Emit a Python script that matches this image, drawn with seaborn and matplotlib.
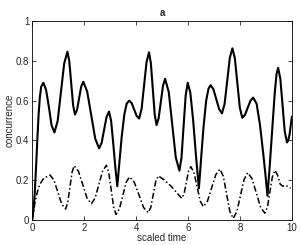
import matplotlib
matplotlib.use('Agg')
import seaborn as sns
import matplotlib.pyplot as plt

sns.set_style('white')
plt.rcParams['font.family'] = ['Liberation Sans', 'DejaVu Sans']

# solid curve
solid_t = [0, 0.05, 0.1, 0.15, 0.2, 0.25, 0.3, 0.35, 0.435,
           0.54, 0.65, 0.75, 0.86, 0.985, 1.11, 1.235, 1.36,
           1.43, 1.505, 1.58, 1.65, 1.73, 1.81, 1.89, 1.97,
           2.12, 2.275, 2.43, 2.58, 2.675, 2.77, 2.865, 2.96,
           3.04, 3.12, 3.2, 3.28, 3.36, 3.45, 3.55, 3.64, 3.74,
           3.835, 3.93, 4.025, 4.12, 4.215, 4.31, 4.405, 4.5,
           4.57, 4.645, 4.72, 4.79, 4.87, 4.955, 5.04, 5.12,
           5.26, 5.395, 5.53, 5.67, 5.75, 5.83, 5.91, 5.99,
           6.09, 6.2, 6.31, 6.42, 6.5, 6.6, 6.7, 6.79, 6.87,
           6.98, 7.09, 7.2, 7.31, 7.41, 7.51, 7.61, 7.71,
           7.805, 7.9, 7.995, 8.09, 8.195, 8.3, 8.405, 8.51,
           8.64, 8.77, 8.9, 8.98, 9.06, 9.14, 9.24, 9.34, 9.41, 9.47,
           9.555, 9.64, 9.725, 9.81, 9.86, 9.91, 9.96, 10]
solid_c = [0, 0.05, 0.13, 0.26, 0.4, 0.53, 0.62, 0.67, 0.69,
           0.653, 0.565, 0.476, 0.44, 0.499, 0.643, 0.787, 0.846,
           0.8, 0.688, 0.576, 0.53, 0.554, 0.6125, 0.671, 0.695,
           0.646, 0.5275, 0.409, 0.36, 0.387, 0.4525, 0.518, 0.545,
           0.5, 0.39, 0.27, 0.17, 0.29, 0.42, 0.53, 0.585, 0.6,
           0.587, 0.555, 0.523, 0.51, 0.559, 0.6765, 0.794, 0.843,
           0.79, 0.66, 0.53, 0.477, 0.511, 0.5935, 0.676, 0.71,
           0.643, 0.479, 0.315, 0.248, 0.313, 0.469, 0.625, 0.69,
           0.64, 0.5, 0.32, 0.159, 0.3, 0.47, 0.6, 0.66, 0.678,
           0.657, 0.607, 0.557, 0.536, 0.584, 0.6995, 0.815, 0.863,
           0.812, 0.6885, 0.565, 0.514, 0.529, 0.5645, 0.6, 0.615,
           0.585, 0.48, 0.33, 0.23, 0.122, 0.26, 0.45, 0.64, 0.735, 0.765,
           0.71, 0.5775, 0.445, 0.39, 0.4, 0.43, 0.48, 0.52]

# dash-dot curve
dash_t = [0, 0.05, 0.1, 0.2, 0.3, 0.45, 0.69, 0.84, 0.99, 1.14, 1.29,
          1.37, 1.455, 1.54, 1.62, 1.785, 1.95, 2.115, 2.28,
          2.425, 2.57, 2.715, 2.86, 2.95, 3.045, 3.14, 3.23,
          3.36, 3.49, 3.62, 3.75, 3.93, 4.11, 4.29, 4.47,
          4.57, 4.665, 4.76, 4.86, 5.1, 5.35, 5.55, 5.76,
          5.85, 5.935, 6.02, 6.11, 6.23, 6.35, 6.47, 6.59,
          6.75, 6.91, 7.07, 7.23, 7.36, 7.485, 7.61, 7.74,
          7.88, 8.02, 8.16, 8.3, 8.465, 8.63, 8.795, 8.96,
          9.06, 9.155, 9.25, 9.35, 9.45, 9.55, 9.65, 9.75, 9.85, 9.95]
dash_c = [0, 0.03, 0.08, 0.14, 0.18, 0.21, 0.226, 0.201, 0.1405, 0.08, 0.055,
          0.087, 0.164, 0.241, 0.273, 0.245, 0.1775, 0.11, 0.082,
          0.11, 0.1785, 0.247, 0.275, 0.239, 0.1515, 0.064, 0.028,
          0.056, 0.1225, 0.189, 0.217, 0.191, 0.127, 0.063, 0.037,
          0.064, 0.1295, 0.195, 0.222, 0.2, 0.17, 0.14, 0.109,
          0.132, 0.1885, 0.245, 0.268, 0.239, 0.1675, 0.096, 0.067,
          0.095, 0.1615, 0.228, 0.256, 0.22, 0.132, 0.044, 0.008,
          0.042, 0.123, 0.204, 0.238, 0.208, 0.136, 0.064, 0.034,
          0.066, 0.142, 0.218, 0.25, 0.225, 0.18, 0.17, 0.175, 0.168, 0.16]

x_ticks = [0, 2, 4, 6, 8, 10]
y_ticks = [0, 0.2, 0.4, 0.6, 0.8, 1]

fig = plt.figure(figsize=(3.0, 2.45), dpi=100)
ax = fig.add_axes([0.107, 0.102, 0.866, 0.812])

sns.lineplot(x=solid_t, y=solid_c, ax=ax, color='black', linewidth=1.5,
             estimator=None, sort=False)
sns.lineplot(x=dash_t, y=dash_c, ax=ax, color='black', linewidth=1.1,
             linestyle=(0, (4, 1.6, 1, 1.6)), estimator=None, sort=False)

ax.set_xlim(0, 10)
ax.set_ylim(0, 1)
ax.set_xticks(x_ticks)
ax.set_yticks(y_ticks)
ax.set_xticklabels(['0', '2', '4', '6', '8', '10'])
ax.set_yticklabels(['0', '0.2', '0.4', '0.6', '0.8', '1'])
ax.tick_params(direction='in', length=3, width=0.6, labelsize=7,
               top=True, right=True, bottom=True, left=True, pad=2)
for s in ax.spines.values():
    s.set_color('black')
    s.set_linewidth(0.6)
ax.set_xlabel('scaled time', fontsize=7, labelpad=0)
ax.set_ylabel('concurrence', fontsize=7, labelpad=1)
ax.set_title('a', fontsize=7, fontweight='bold', pad=4)

fig.savefig('out.png', dpi=100)
